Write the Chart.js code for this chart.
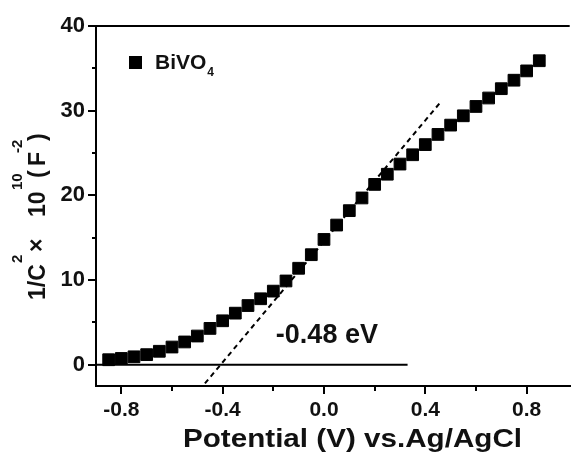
<!DOCTYPE html>
<html>
<head>
<meta charset="utf-8">
<script src="https://cdn.jsdelivr.net/npm/chart.js@4.4.1/dist/chart.umd.min.js"></script>
<style>
  html, body { margin: 0; padding: 0; background: #fff; overflow: hidden; }
  #wrap { width: 579px; height: 454px; position: relative; }
</style>
</head>
<body>
<div id="wrap"><canvas id="c" width="579" height="454"></canvas></div>
<script>
// ---- data ----
const potential = [-0.85, -0.80, -0.75, -0.70, -0.65, -0.60, -0.55, -0.50, -0.45, -0.40,
                   -0.35, -0.30, -0.25, -0.20, -0.15, -0.10, -0.05, 0.00, 0.05, 0.10,
                   0.15, 0.20, 0.25, 0.30, 0.35, 0.40, 0.45, 0.50, 0.55, 0.60,
                   0.65, 0.70, 0.75, 0.80, 0.85];
const invCapSq = [0.6, 0.75, 0.95, 1.2, 1.6, 2.1, 2.7, 3.4, 4.3, 5.2,
                  6.1, 7.0, 7.8, 8.7, 9.9, 11.4, 13.0, 14.8, 16.5, 18.2,
                  19.7, 21.3, 22.5, 23.7, 24.8, 26.0, 27.2, 28.3, 29.4, 30.5,
                  31.5, 32.6, 33.6, 34.7, 35.9];
const fitLineX = [-0.47, 0.46];
const fitLineY = [-2.2, 31.0];
const baseLineX = [-0.9, 0.33];
const baseLineY = [0, 0];
const xMajorTicks = [-0.8, -0.4, 0.0, 0.4, 0.8];
const xMinorTicks = [-0.6, -0.2, 0.2, 0.6];
const yMajorTicks = [0, 10, 20, 30, 40];
const yMinorTicks = [5, 15, 25, 35];
const seriesName = 'BiVO';
const seriesSub = '4';
const annotationText = '-0.48 eV';
const xTitle = 'Potential (V) vs.Ag/AgCl';

const FONT = "'Liberation Sans', Arial, sans-serif";
const toXY = (xs, ys) => xs.map((v, i) => ({ x: v, y: ys[i] }));
const isMinor = (v, list) => list.some(m => Math.abs(m - v) < 1e-9);

const extras = {
  id: 'extras',
  afterDraw(chart) {
    const ctx = chart.ctx;
    const a = chart.chartArea;
    const xs = chart.scales.x, ys = chart.scales.y;
    ctx.save();
    ctx.fillStyle = '#000';
    ctx.strokeStyle = '#000';
    // top frame line
    ctx.lineWidth = 2;
    ctx.beginPath();
    ctx.moveTo(a.left - 1, a.top);
    ctx.lineTo(a.right, a.top);
    ctx.stroke();
    // minor ticks
    ctx.lineWidth = 2;
    xMinorTicks.forEach(v => {
      const px = Math.round(xs.getPixelForValue(v));
      ctx.beginPath(); ctx.moveTo(px, a.bottom); ctx.lineTo(px, a.bottom + 5); ctx.stroke();
    });
    yMinorTicks.forEach(v => {
      const py = Math.round(ys.getPixelForValue(v));
      ctx.beginPath(); ctx.moveTo(a.left, py); ctx.lineTo(a.left - 4, py); ctx.stroke();
    });
    // legend
    ctx.fillRect(129, 56, 13, 13);
    ctx.font = 'bold 21px ' + FONT;
    ctx.textBaseline = 'alphabetic';
    ctx.textAlign = 'left';
    ctx.fillStyle = '#111';
    ctx.fillText(seriesName, 155, 69);
    const w = ctx.measureText(seriesName).width;
    ctx.font = 'bold 12px ' + FONT;
    ctx.fillText(seriesSub, 155 + w + 1, 76);
    // annotation
    ctx.font = 'bold 27px ' + FONT;
    ctx.fillText(annotationText, xs.getPixelForValue(-0.19), ys.getPixelForValue(2.6));
    // x-axis title (slightly widened to match the reference)
    ctx.save();
    ctx.font = 'bold 25px ' + FONT;
    const tw = ctx.measureText(xTitle).width;
    const sx = 339 / tw;
    ctx.translate(183, 447);
    ctx.scale(sx, 1);
    ctx.fillText(xTitle, 0, 0);
    ctx.restore();
    // y-axis title with superscripts
    ctx.translate(45, 300);
    ctx.rotate(-Math.PI / 2);
    const main = 'bold 23px ' + FONT, sup = 'bold 15px ' + FONT;
    const parts = [
      ['1/C', 0, main, 0],
      ['2', 37, sup, -23],
      ['\u00D7', 48, 'bold 23px ' + FONT, -1],
      ['10', 83, main, 0],
      ['10', 110, sup, -23],
      ['(', 122, main, 0],
      ['F', 134, main, 0],
      ['-2', 147, sup, -23],
      [')', 159, main, 0]
    ];
    parts.forEach(p => { ctx.font = p[2]; ctx.fillText(p[0], p[1], p[3]); });
    ctx.restore();
  }
};

new Chart(document.getElementById('c'), {
  type: 'scatter',
  data: {
    datasets: [
      {
        label: seriesName + seriesSub,
        data: toXY(potential, invCapSq),
        pointStyle: 'rect',
        pointRadius: 8.3,
        pointHoverRadius: 8.3,
        backgroundColor: '#000',
        borderColor: '#000',
        borderWidth: 1,
        showLine: false,
        order: 0
      },
      {
        label: 'fit',
        data: toXY(fitLineX, fitLineY),
        showLine: true,
        borderColor: '#000',
        borderWidth: 2,
        borderDash: [5, 4],
        pointRadius: 0,
        order: 1
      },
      {
        label: 'base',
        data: toXY(baseLineX, baseLineY),
        showLine: true,
        borderColor: '#000',
        borderWidth: 2,
        pointRadius: 0,
        order: 2
      }
    ]
  },
  options: {
    responsive: false,
    animation: false,
    devicePixelRatio: 1,
    layout: { padding: { top: 26, right: 0, left: 0, bottom: 0 } },
    plugins: { legend: { display: false }, tooltip: { enabled: false } },
    scales: {
      x: {
        type: 'linear',
        min: -0.9,
        max: 0.97,
        afterBuildTicks: s => { s.ticks = [...xMajorTicks, ...xMinorTicks].sort((a, b) => a - b).map(v => ({ value: v })); },
        afterFit: s => { s.height = 68; },
        border: { display: true, color: '#000', width: 2 },
        grid: {
          drawOnChartArea: false,
          tickLength: 8,
          lineWidth: 2,
          tickColor: c => isMinor(c.tick.value, xMinorTicks) ? 'rgba(0,0,0,0)' : '#000'
        },
        ticks: {
          color: '#111',
          padding: 4,
          maxRotation: 0,
          autoSkip: false,
          font: { family: FONT, size: 21, weight: 'bold' },
          callback: v => isMinor(v, xMinorTicks) ? '' : (Math.abs(v) < 1e-9 ? '0.0' : v.toFixed(1))
        },
        title: { display: false }
      },
      y: {
        type: 'linear',
        min: -2.5,
        max: 40,
        afterBuildTicks: s => { s.ticks = [...yMajorTicks, ...yMinorTicks].sort((a, b) => a - b).map(v => ({ value: v })); },
        afterFit: s => { s.width = 96; },
        border: { display: true, color: '#000', width: 2 },
        grid: {
          drawOnChartArea: false,
          tickLength: 8,
          lineWidth: 2,
          tickColor: c => isMinor(c.tick.value, yMinorTicks) ? 'rgba(0,0,0,0)' : '#000'
        },
        ticks: {
          color: '#111',
          padding: 3,
          autoSkip: false,
          font: { family: FONT, size: 22, weight: 'bold' },
          callback: v => isMinor(v, yMinorTicks) ? '' : String(v)
        }
      }
    }
  },
  plugins: [extras]
});
</script>
</body>
</html>
